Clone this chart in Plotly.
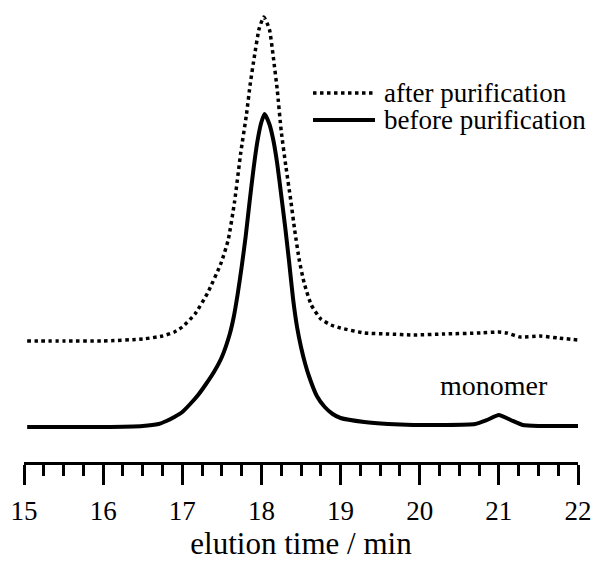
import plotly.graph_objects as go

# elution time (min) and detector response (arbitrary units)
t_before = [15.04, 15.5, 16.0, 16.5, 16.7, 16.8, 16.9, 17.0, 17.1, 17.2, 17.3, 17.4, 17.5,
            17.6, 17.65, 17.7, 17.75, 17.8, 17.85, 17.9, 17.95, 18.0, 18.04, 18.1, 18.15,
            18.2, 18.25, 18.3, 18.35, 18.4, 18.45, 18.5, 18.55, 18.6, 18.7, 18.8, 18.9,
            19.0, 19.3, 19.6, 19.92, 20.3, 20.7, 20.85, 21.0, 21.15, 21.3, 21.5, 22.0]
y_before = [0, 0, 0, 1, 3, 6, 10, 15, 23, 32, 43, 55, 70,
            93, 110, 133, 160, 190, 225, 258, 286, 305, 313, 303, 287,
            263, 232, 200, 165, 128, 100, 80, 64, 51, 31, 20, 13,
            9, 5, 3, 2, 2, 3, 7, 12, 7, 2, 1, 1]

t_after = [15.04, 15.5, 16.0, 16.5, 16.75, 16.9, 17.0, 17.16, 17.32, 17.49, 17.58, 17.66,
           17.74, 17.81, 17.86, 17.91, 17.97, 18.03, 18.1, 18.15, 18.2, 18.25, 18.31, 18.37,
           18.42, 18.48, 18.54, 18.63, 18.75, 18.88, 19.0, 19.3, 19.6, 19.92, 20.3, 20.77,
           21.0, 21.1, 21.27, 21.52, 21.75, 22.0]
y_after = [86, 86, 86, 88, 91, 95, 100, 113, 134, 164, 187, 225,
           275, 312, 344, 370, 398, 410, 398, 370, 337, 296, 260, 227,
           197, 166, 144, 122, 108, 102, 99, 94, 93, 92, 93, 94,
           95, 94, 90, 91, 89, 87]

x_ticks = [15, 16, 17, 18, 19, 20, 21, 22]
legend_names = ["after purification", "before purification"]

FONT = "'Liberation Serif', 'Times New Roman', Times, serif"

fig = go.Figure()
fig.add_trace(go.Scatter(x=t_after, y=y_after, mode="lines", name=legend_names[0],
                         line=dict(color="black", width=3.5, dash="dot", shape="spline", smoothing=0.5),
                         showlegend=False))
fig.add_trace(go.Scatter(x=t_before, y=y_before, mode="lines", name=legend_names[1],
                         line=dict(color="black", width=4, shape="spline", smoothing=0.5),
                         showlegend=False))

# hand-made legend (long line samples, as in the original)
W, H, L, B = 554, 452, 24, 102
def px(xp):
    return (xp - L) / W
def py(yp):
    return (564 - B - yp) / H

for i, (yy, dash) in enumerate([(93, "dot"), (120, "solid")]):
    fig.add_shape(type="line", xref="paper", yref="paper",
                  x0=px(313), x1=px(375), y0=py(yy), y1=py(yy),
                  line=dict(color="black", width=3.5 if dash == "dot" else 4, dash=dash))
    fig.add_annotation(xref="paper", yref="paper", x=px(382), y=py(yy),
                       text=legend_names[i], showarrow=False, xanchor="left", yanchor="middle",
                       font=dict(family=FONT, size=27, color="black"))

fig.add_annotation(x=20.94, y=42, text="monomer", showarrow=False,
                   xanchor="center", yanchor="middle",
                   font=dict(family=FONT, size=28, color="black"))

fig.update_layout(
    width=595, height=564,
    margin=dict(l=L, r=595 - L - W, t=564 - B - H, b=B, autoexpand=False),
    paper_bgcolor="white", plot_bgcolor="white",
    font=dict(family=FONT, size=27, color="black"),
    xaxis=dict(range=[15, 22], tickvals=x_ticks, ticktext=[str(v) for v in x_ticks],
               automargin=False,
               ticks="outside", ticklen=20, tickwidth=3, tickcolor="black",
               showline=True, linewidth=3, linecolor="black", showgrid=False, zeroline=False,
               minor=dict(dtick=0.25, tick0=15, ticks="outside", ticklen=11, tickwidth=2.5,
                          tickcolor="black", showgrid=False),
               tickfont=dict(family=FONT, size=27, color="black"),
               ticklabelstandoff=3,
               title=dict(text="elution time / min", font=dict(family=FONT, size=31, color="black"),
                          standoff=4)),
    yaxis=dict(visible=False, range=[-35, 417], automargin=False),
    showlegend=False,
)

fig.write_html("out.html", config={"displayModeBar": False},
               post_script="document.body.style.margin='0px';")
